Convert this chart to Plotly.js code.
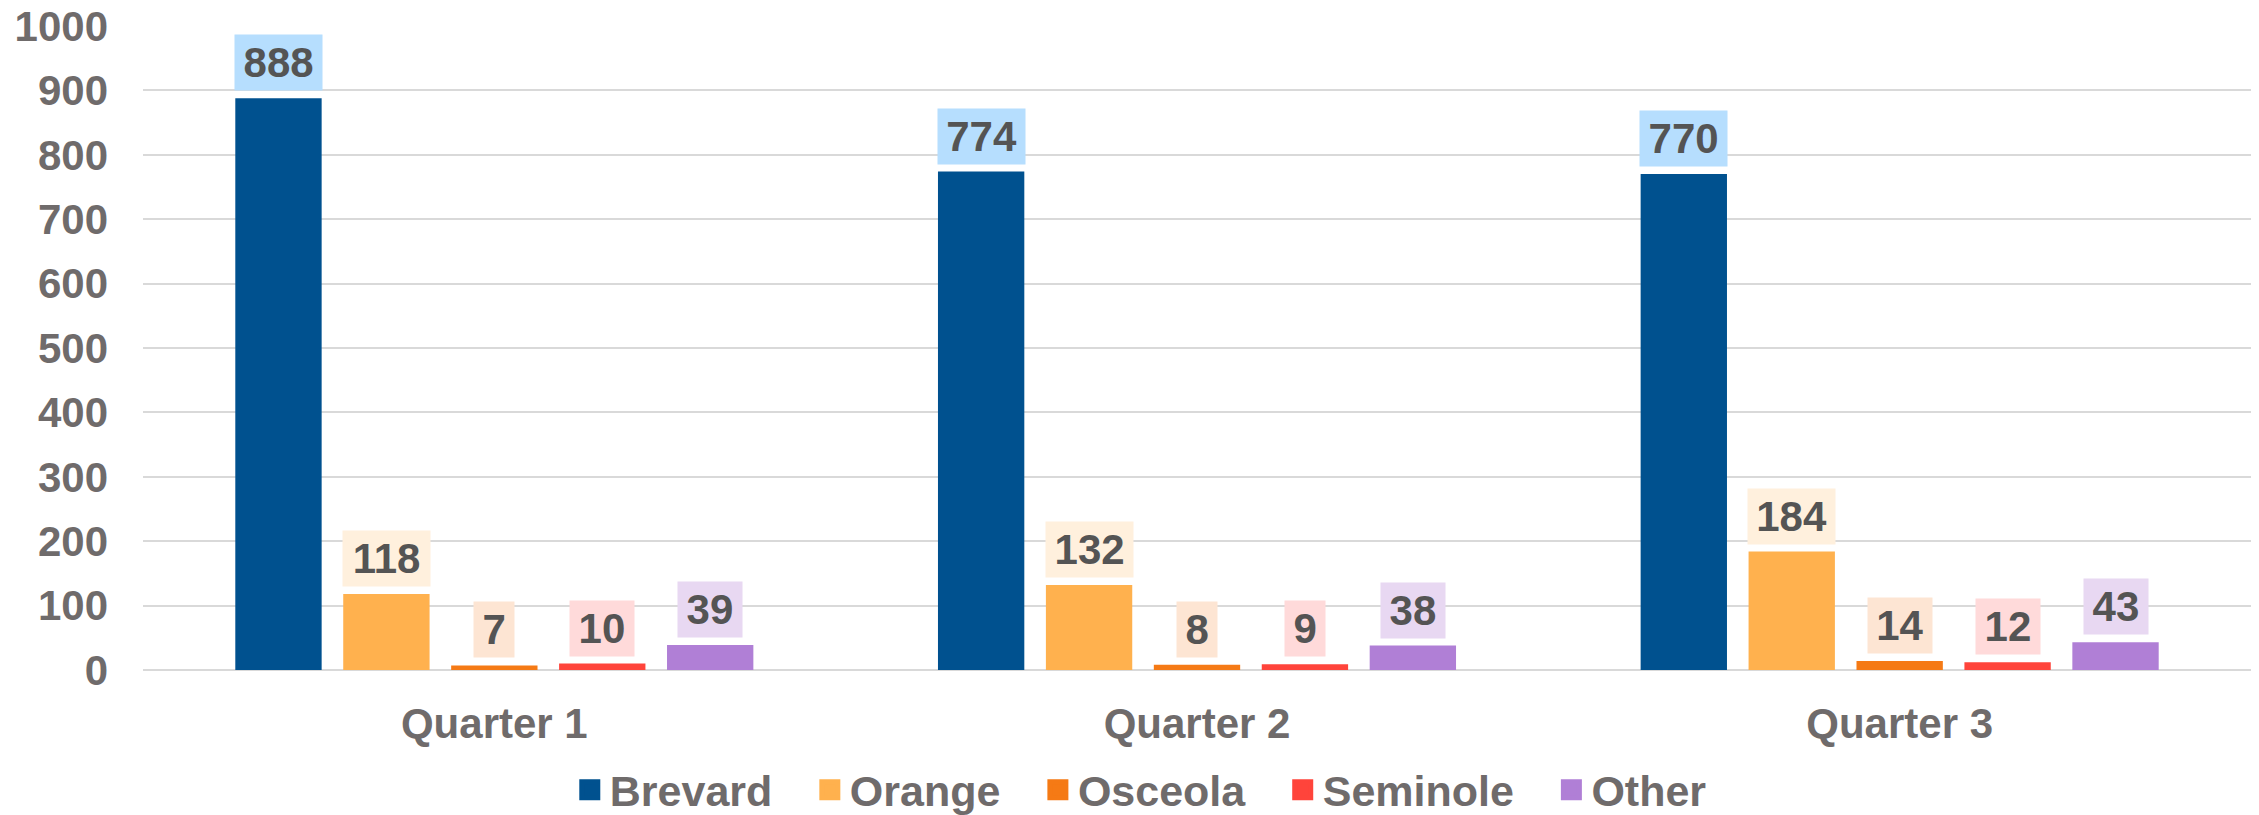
<!DOCTYPE html>
<html>
<head>
<meta charset="utf-8">
<script src="https://cdn.plot.ly/plotly-3.0.1.min.js"></script>
<style>
html,body{margin:0;padding:0;background:#fff;}
#chart{width:2259px;height:815px;}
</style>
</head>
<body>
<div id="chart"></div>
<script>
const categories = ["Quarter 1", "Quarter 2", "Quarter 3"];
const seriesNames = ["Brevard", "Orange", "Osceola", "Seminole", "Other"];
const brevard  = [888, 774, 770];
const orange   = [118, 132, 184];
const osceola  = [7, 8, 14];
const seminole = [10, 9, 12];
const other    = [39, 38, 43];
const yTicks = [0, 100, 200, 300, 400, 500, 600, 700, 800, 900, 1000];

const seriesValues = [brevard, orange, osceola, seminole, other];
const barColors = ["#00518F", "#FFB14E", "#F57A15", "#FF443B", "#B07FD6"];
const boxColors = ["#B6DEFE", "#FFF0DD", "#FDE5D3", "#FFDADA", "#E8D8F2"];

const FONT = "Liberation Sans, Arial, sans-serif";
const axisGray = "#6F6B6B";
const labelGray = "#545454";
const bargap = 0.232;
const bargroupgap = 0.2;
const PAD = "\u00a0\u00a0\u2009";

const traces = [];
seriesNames.forEach((name, i) => {
  traces.push({
    type: "bar",
    name: name,
    x: categories,
    y: seriesValues[i],
    marker: {color: barColors[i]},
    showlegend: false,
    hoverinfo: "x+y+name"
  });
});
// legend entries with larger square swatches
seriesNames.forEach((name, i) => {
  traces.push({
    type: "scatter",
    mode: "markers",
    name: i < seriesNames.length - 1 ? name + PAD : name,
    x: [null],
    y: [null],
    marker: {symbol: "square", size: 16, color: barColors[i], line: {color: barColors[i], width: 5}},
    showlegend: true,
    hoverinfo: "skip"
  });
});

// data labels positioned through axis scale
const annotations = [];
const nS = seriesNames.length;
const slot = (1 - bargap) / nS;
seriesValues.forEach((vals, i) => {
  vals.forEach((v, c) => {
    const txt = String(v);
    annotations.push({
      xref: "x", yref: "y",
      x: c + (i - (nS - 1) / 2) * slot,
      y: v,
      text: txt,
      showarrow: false,
      xanchor: "center",
      yanchor: "bottom",
      yshift: 7,
      bgcolor: boxColors[i],
      borderpad: 7,
      width: txt.length * 23.4 + 3,
      height: 41,
      font: {family: FONT, size: 42, color: labelGray, weight: 700}
    });
  });
});

const layout = {
  width: 2259,
  height: 815,
  paper_bgcolor: "#ffffff",
  plot_bgcolor: "#ffffff",
  margin: {l: 143, r: 8, t: 26, b: 145},
  barmode: "group",
  bargap: bargap,
  bargroupgap: bargroupgap,
  font: {family: FONT, color: axisGray},
  xaxis: {
    type: "category",
    categoryorder: "array",
    categoryarray: categories,
    range: [-0.5, 2.5],
    showgrid: false,
    showline: false,
    zeroline: false,
    ticks: "",
    ticklabelstandoff: 25,
    tickfont: {family: FONT, size: 42, color: axisGray, weight: 700}
  },
  yaxis: {
    range: [0, 1000],
    tickmode: "array",
    tickvals: yTicks,
    ticktext: yTicks.map(String),
    showgrid: true,
    gridcolor: "#D9D9D9",
    gridwidth: 1.5,
    zeroline: true,
    zerolinecolor: "#D9D9D9",
    zerolinewidth: 1.5,
    showline: false,
    ticks: "",
    ticklabelstandoff: 34,
    tickfont: {family: FONT, size: 42, color: axisGray, weight: 700}
  },
  legend: {
    orientation: "h",
    xref: "container",
    yref: "container",
    x: 0.505,
    xanchor: "center",
    y: 0.031,
    yanchor: "middle",
    font: {family: FONT, size: 43, color: axisGray, weight: 700},
    traceorder: "normal",
    itemclick: false
  },
  annotations: annotations,
  showlegend: true
};

Plotly.newPlot("chart", traces, layout, {displayModeBar: false, responsive: false});
</script>
</body>
</html>
